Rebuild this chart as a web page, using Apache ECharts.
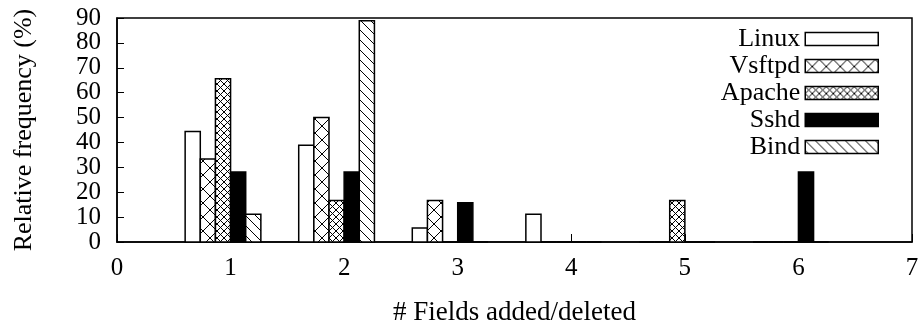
<!DOCTYPE html>
<html>
<head>
	<meta charset="UTF-8">
	<title></title>
	<style>
		html, body { margin: 0; padding: 0; background: #fff; }
	</style>
</head>
<body>
	<div id="chart-wrap" style="width: 924px; height: 327px;"></div>
</body>
<script>
// the font family given in the options does not reach the canvas here,
// so every font string set on a 2d context is forced to the serif face
(function () {
    var proto = CanvasRenderingContext2D.prototype;
    var desc = Object.getOwnPropertyDescriptor(proto, 'font');
    if (desc && desc.set) {
        Object.defineProperty(proto, 'font', {
            configurable: true,
            get: function () { return desc.get.call(this); },
            set: function (v) {
                var m = /(\d+(\.\d+)?)px/.exec(String(v));
                var size = m ? m[1] : '12';
                desc.set.call(this, size + 'px "Liberation Serif"');
            }
        });
    }
})();
</script>
<script src="https://cdn.jsdelivr.net/npm/echarts@6/dist/echarts.min.js"></script>
<script>
var chartDom = document.getElementById('chart-wrap');
var myChart = echarts.init(chartDom);

// number of fields added/deleted (x groups)
var groups = [1, 2, 3, 4, 5, 6];
var names = ['Linux', 'Vsftpd', 'Apache', 'Sshd', 'Bind'];

// relative frequency (%) per program
var linux  = [44.4, 38.9, 5.6, 11.1, 0, 0];
var vsftpd = [33.3, 50.0, 16.7, 0, 0, 0];
var apache = [65.6, 16.7, 0, 0, 16.7, 0];
var sshd   = [28.1, 28.1, 15.8, 0, 0, 28.1];
var bind   = [11.1, 88.9, 0, 0, 0, 0];

var allValues = [linux, vsftpd, apache, sshd, bind];

var FONT = 'Liberation Serif';
var barW = 2 / 15;      // width of one bar in x units
var startOff = -0.4;    // first bar starts 0.4 left of the group value

// hatch patterns drawn on small canvases
function makeTile(size, draw) {
    var c = document.createElement('canvas');
    c.width = size;
    c.height = size;
    var ctx = c.getContext('2d');
    ctx.fillStyle = '#fff';
    ctx.fillRect(0, 0, size, size);
    ctx.strokeStyle = '#000';
    ctx.lineWidth = 1;
    draw(ctx, size);
    return { image: c, repeat: 'repeat' };
}
function crossHatch(ctx, s) {
    ctx.beginPath();
    ctx.moveTo(-1, -1); ctx.lineTo(s + 1, s + 1);
    ctx.moveTo(s + 1, -1); ctx.lineTo(-1, s + 1);
    ctx.stroke();
}
var fills = [
    '#fff',
    makeTile(14, crossHatch),
    makeTile(7, crossHatch),
    '#000',
    makeTile(10, function (ctx, s) {
        ctx.beginPath();
        ctx.moveTo(-1, -1); ctx.lineTo(s + 1, s + 1);
        ctx.stroke();
    })
];

var series = [];
for (var i = 0; i < names.length; i++) {
    var data = [];
    for (var j = 0; j < groups.length; j++) {
        data.push([groups[j], allValues[i][j]]);
    }
    series.push({
        name: names[i],
        type: 'custom',
        data: data,
        itemStyle: { color: fills[i], borderColor: '#000', borderWidth: 1.5 },
        renderItem: (function (idx) {
            return function (params, api) {
                var x0 = api.value(0) + startOff + idx * barW;
                var p0 = api.coord([x0, api.value(1)]);
                var p1 = api.coord([x0 + barW, 0]);
                return {
                    type: 'rect',
                    shape: { x: p0[0], y: p0[1], width: p1[0] - p0[0], height: p1[1] - p0[1] },
                    style: { fill: fills[idx], stroke: '#000', lineWidth: 1.5 }
                };
            };
        })(i)
    });
}

var txt = function (size) {
    return { fontFamily: FONT, fontSize: size, color: '#000', fontWeight: 'normal' };
};

var option = {
    animation: false,
    textStyle: { fontFamily: FONT },
    grid: {
        left: 117,
        right: 12,
        top: 18,
        bottom: 85,
        outerBoundsMode: 'none',
        show: true,
        borderColor: '#000',
        borderWidth: 1.5
    },
    legend: {
        orient: 'vertical',
        right: 45,
        top: 26,
        padding: 0,
        align: 'right',
        itemWidth: 73,
        itemHeight: 13,
        itemGap: 1,
        selectedMode: false,
        textStyle: txt(26),
        data: names.map(function (n, i) {
            return {
                name: n,
                icon: 'rect',
                itemStyle: { color: fills[i], borderColor: '#000', borderWidth: 1.5 }
            };
        })
    },
    xAxis: {
        type: 'value',
        min: 0,
        max: 7,
        interval: 1,
        name: '# Fields added/deleted',
        nameLocation: 'middle',
        nameGap: 57,
        nameTextStyle: txt(27),
        axisLine: { show: true, lineStyle: { color: '#000', width: 1.5 } },
        axisTick: { show: true, inside: true, length: 8, lineStyle: { color: '#000', width: 1 } },
        axisLabel: txt(25),
        splitLine: { show: false }
    },
    yAxis: {
        type: 'value',
        min: 0,
        max: 90,
        interval: 10,
        name: 'Relative frequency (%)',
        nameLocation: 'middle',
        nameGap: 80,
        nameTextStyle: txt(26),
        axisLine: { show: true, lineStyle: { color: '#000', width: 1.5 } },
        axisTick: { show: true, inside: true, length: 7, lineStyle: { color: '#000', width: 1 } },
        axisLabel: txt(25),
        splitLine: { show: false }
    },
    series: series
};
option.xAxis.axisLabel.margin = 14;
option.yAxis.axisLabel.margin = 16;
option.yAxis.axisLabel.showMinLabel = true;
option.yAxis.axisLabel.showMaxLabel = true;
option.yAxis.axisLabel.hideOverlap = false;

myChart.setOption(option);
</script>
</html>
